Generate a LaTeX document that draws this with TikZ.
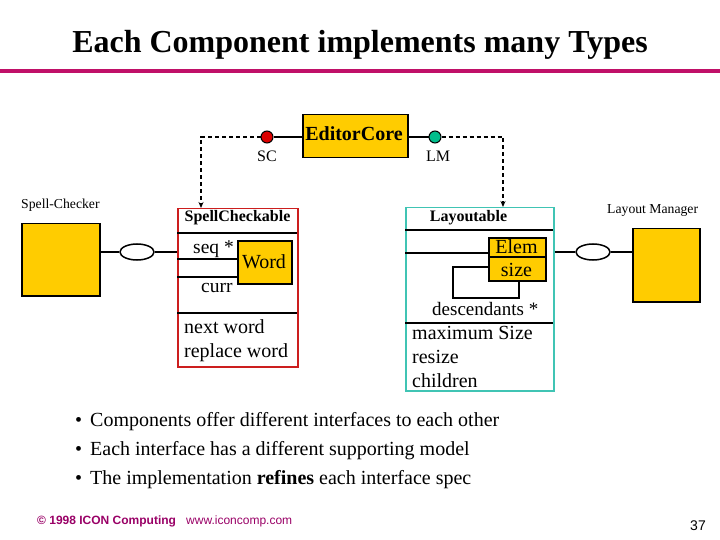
\documentclass[tikz,border=0pt]{standalone}
\usepackage{fontspec}
\setmainfont{Liberation Serif}
\setsansfont{Liberation Sans}
\usetikzlibrary{arrows.meta,shapes.geometric}
\definecolor{gold}{RGB}{255,204,0}
\definecolor{magline}{RGB}{192,16,104}
\definecolor{scred}{RGB}{220,0,0}
\definecolor{boxred}{RGB}{204,30,30}
\definecolor{lmgreen}{RGB}{0,190,140}
\definecolor{tealbox}{RGB}{64,196,180}
\definecolor{foot}{RGB}{153,0,102}
\newcommand{\fs}[1]{\fontsize{#1}{#1}\selectfont}
\begin{document}
\begin{tikzpicture}[x=1pt,y=-1pt,
  comp/.style={draw=black,line width=1.5pt,fill=gold,inner sep=0pt},
  txt/.style={inner sep=0pt,anchor=base west},
  ctxt/.style={inner sep=0pt,anchor=base},
  iface/.style={ellipse,draw=black,line width=1.5pt,fill=white,minimum width=34pt,minimum height=16pt,inner sep=0pt},
  dot/.style={circle,draw=black,line width=1pt,minimum size=12pt,inner sep=0pt},
  dashconn/.style={dashed,dash pattern=on 4pt off 3pt,line width=1.5pt,-{Stealth[length=6pt,width=5pt]}},
  conn/.style={line width=1.5pt},
  tbox/.style={line width=1.5pt,inner sep=0pt,anchor=north west}]
\useasboundingbox (0,0) rectangle (720,540);
% title
\node[ctxt,font=\fs{32}\bfseries] (title) at (360,53) {Each Component implements many Types};
\draw[magline,line width=4pt] (0,71) -- (720,71);
% editor core
\node[comp,anchor=north west,minimum width=105pt,minimum height=43pt] (core) at (302,114) {};
\node[ctxt,font=\fs{20}\bfseries] (coretxt) at (354,141) {EditorCore};
\node[dot,fill=scred] (scdot) at (267,137) {};
\node[dot,fill=lmgreen] (lmdot) at (435,137) {};
\draw[conn] (scdot) -- (core.west |- scdot);
\draw[conn] (lmdot) -- (core.east |- lmdot);
\node[ctxt,font=\fs{16}] (sclbl) at (267,162) {SC};
\node[ctxt,font=\fs{16}] (lmlbl) at (438,162) {LM};
% spell checker component
\node[txt,font=\fs{13.7}] (spclbl) at (21,209) {Spell-Checker};
\node[comp,anchor=north west,minimum width=78pt,minimum height=72pt] (spc) at (21,223) {};
\node[iface] (ifsc) at (137,252) {};
% SpellCheckable box
\node[tbox,draw=boxred,minimum width=120pt,minimum height=158pt] (scbox) at (177,208) {};
\coordinate (scturn) at (201,137);
\draw[dashconn] (scdot.west) -- (scturn) -- (scturn |- scbox.north);
\draw[conn] (spc.east |- ifsc) -- (ifsc.west);
\draw[conn] (ifsc.east) -- (scbox.west |- ifsc);
\node[ctxt,font=\fs{16}\bfseries] (sctitle) at (237.5,222) {SpellCheckable};
\draw[line width=1.5pt] (177,233) -- (297,233);
\node[comp,anchor=north west,minimum width=54pt,minimum height=43pt] (word) at (237,240) {};
\node[ctxt,font=\fs{20}] (wordtxt) at (264,268) {Word};
\draw[conn] (177,259) -- (237,259);
\draw[conn] (177,277) -- (237,277);
\node[txt,font=\fs{19.5}] (seq) at (193,254) {seq *};
\node[txt,font=\fs{19.5}] (curr) at (201,292) {curr};
\draw[line width=1.5pt] (177,313) -- (297,313);
\node[txt,font=\fs{20}] (nw) at (184,333) {next word};
\node[txt,font=\fs{20}] (rw) at (184,357) {replace word};
% Layoutable box
\node[tbox,draw=tealbox,minimum width=148pt,minimum height=183pt] (lbox) at (405,207) {};
\coordinate (lmturn) at (503,137);
\draw[dashconn] (lmdot.east) -- (lmturn) -- (lmturn |- lbox.north);
\node[ctxt,font=\fs{16}\bfseries] (ltitle) at (468.5,222) {Layoutable};
\draw[line width=1.5pt] (405,230) -- (553,230);
\node[comp,anchor=north west,minimum width=57pt,minimum height=19pt] (elem) at (488,237) {};
\node[comp,anchor=north west,minimum width=57pt,minimum height=24pt] (size) at (488,256) {};
\node[ctxt,font=\fs{20}] (elemtxt) at (516.5,253) {Elem};
\node[ctxt,font=\fs{20}] (sizetxt) at (516.5,276) {size};
\draw[conn] (405,253) -- (elem.west |- 0,253);
\draw[conn] (519,280) -- (519,298) -- (453,298) -- (453,267) -- (488,267);
\node[txt,font=\fs{19}] (desc) at (432,315) {descendants *};
\draw[line width=1.5pt] (405,323) -- (553,323);
\node[txt,font=\fs{20}] (maxs) at (412,339) {maximum Size};
\node[txt,font=\fs{20}] (rsz) at (412,363) {resize};
\node[txt,font=\fs{20}] (chl) at (412,387) {children};
% layout manager component
\node[iface] (iflm) at (593,252) {};
\node[txt,font=\fs{13.7}] (lmclbl) at (607,214) {Layout Manager};
\node[comp,anchor=north west,minimum width=67pt,minimum height=73pt] (lmc) at (632,228) {};
\draw[conn] (lbox.east |- iflm) -- (iflm.west);
\draw[conn] (iflm.east) -- (lmc.west |- iflm);
% bullets
\node[txt,font=\fs{20}] (b1) at (75,426) {\textbullet\hspace{8pt}Components offer different interfaces to each other};
\node[txt,font=\fs{20}] (b2) at (75,455) {\textbullet\hspace{8pt}Each interface has a different supporting model};
\node[txt,font=\fs{20}] (b3) at (75,484) {\textbullet\hspace{8pt}The implementation \textbf{refines} each interface spec};
% footer
\node[txt,font=\sffamily\fs{12}\bfseries,text=foot] (copy) at (37,524) {© 1998 ICON Computing};
\node[txt,font=\sffamily\fs{12},text=foot] (www) at (186,524) {www.iconcomp.com};
\node[inner sep=0pt,anchor=base east,font=\sffamily\fs{14}] (pg) at (706,530) {37};
\end{tikzpicture}
\end{document}
